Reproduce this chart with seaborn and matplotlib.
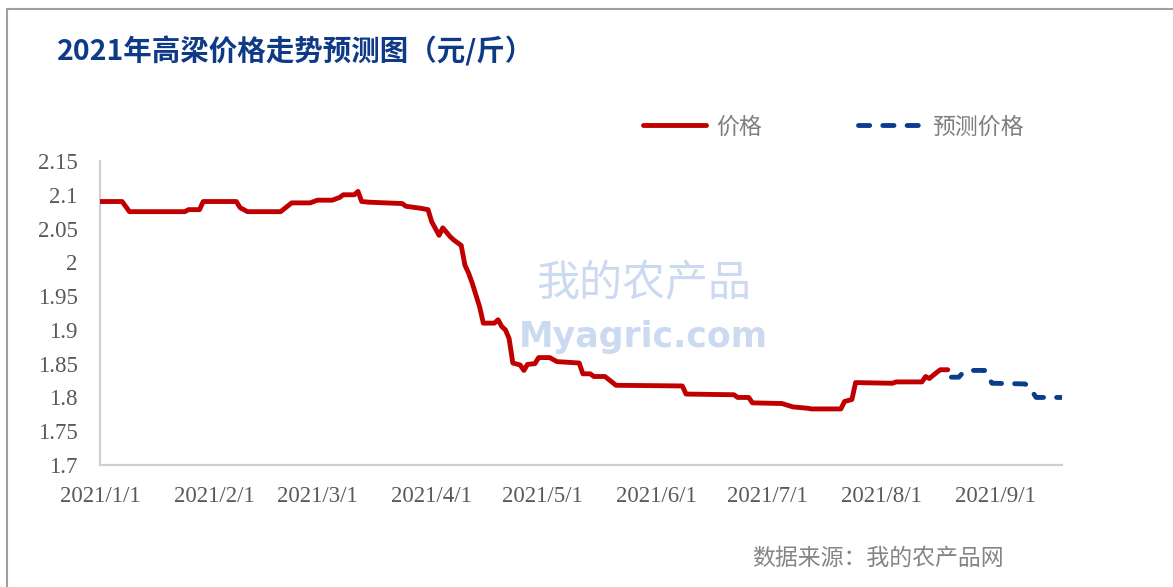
import matplotlib
matplotlib.use("Agg")
import matplotlib.pyplot as plt
import seaborn as sns
import pandas as pd
from matplotlib.lines import Line2D

# ---------------- data ----------------
price_dates = ["2021-01-01", "2021-01-07", "2021-01-09", "2021-01-24", "2021-01-25", "2021-01-28",
               "2021-01-29", "2021-02-07", "2021-02-08", "2021-02-10", "2021-02-19", "2021-02-22",
               "2021-02-27", "2021-03-01", "2021-03-05", "2021-03-07", "2021-03-08", "2021-03-11",
               "2021-03-12", "2021-03-13", "2021-03-15", "2021-03-24", "2021-03-25", "2021-03-29",
               "2021-03-31", "2021-04-01", "2021-04-03", "2021-04-04", "2021-04-06", "2021-04-07",
               "2021-04-09", "2021-04-10", "2021-04-11", "2021-04-12", "2021-04-14", "2021-04-15",
               "2021-04-18", "2021-04-19", "2021-04-20", "2021-04-21", "2021-04-22", "2021-04-23",
               "2021-04-25", "2021-04-26", "2021-04-27", "2021-04-29", "2021-04-30", "2021-05-03",
               "2021-05-05", "2021-05-11", "2021-05-12", "2021-05-14", "2021-05-15", "2021-05-18",
               "2021-05-21", "2021-06-08", "2021-06-09", "2021-06-22", "2021-06-23", "2021-06-26",
               "2021-06-27", "2021-07-05", "2021-07-08", "2021-07-12", "2021-07-13", "2021-07-21",
               "2021-07-22", "2021-07-24", "2021-07-25", "2021-08-04", "2021-08-05", "2021-08-12",
               "2021-08-13", "2021-08-14", "2021-08-16", "2021-08-17", "2021-08-19"]
price_values = [2.090, 2.090, 2.075, 2.075, 2.078, 2.078,
                2.090, 2.090, 2.081, 2.075, 2.075, 2.088,
                2.088, 2.092, 2.092, 2.096, 2.100, 2.100,
                2.105, 2.090, 2.089, 2.087, 2.083, 2.080,
                2.078, 2.060, 2.040, 2.051, 2.038, 2.033,
                2.025, 1.996, 1.984, 1.969, 1.934, 1.910,
                1.910, 1.915, 1.905, 1.900, 1.887, 1.851,
                1.848, 1.840, 1.849, 1.850, 1.859, 1.859,
                1.853, 1.851, 1.835, 1.835, 1.831, 1.831,
                1.818, 1.817, 1.805, 1.804, 1.800, 1.800,
                1.792, 1.791, 1.786, 1.784, 1.783, 1.783,
                1.794, 1.797, 1.822, 1.821, 1.823, 1.823,
                1.831, 1.828, 1.837, 1.841, 1.841]

forecast_dates = ["2021-08-20", "2021-08-22", "2021-08-23", "2021-08-25", "2021-08-29",
                  "2021-08-31", "2021-09-09", "2021-09-10", "2021-09-12", "2021-09-19"]
forecast_values = [1.830, 1.830, 1.836, 1.840, 1.840,
                   1.821, 1.820, 1.816, 1.800, 1.800]

x_tick_dates = ["2021-01-01", "2021-02-01", "2021-03-01", "2021-04-01", "2021-05-01",
                "2021-06-01", "2021-07-01", "2021-08-01", "2021-09-01"]
x_tick_labels = ["2021/1/1", "2021/2/1", "2021/3/1", "2021/4/1", "2021/5/1",
                 "2021/6/1", "2021/7/1", "2021/8/1", "2021/9/1"]
y_ticks = [1.7, 1.75, 1.8, 1.85, 1.9, 1.95, 2.0, 2.05, 2.1, 2.15]
y_tick_labels = ["1.7", "1.75", "1.8", "1.85", "1.9", "1.95", "2", "2.05", "2.1", "2.15"]

title_text = "2021年高梁价格走势预测图（元/斤）"
series_names = ["价格", "预测价格"]
source_text = "数据来源：我的农产品网"
watermark_cn = "我的农产品"
watermark_en = "Myagric.com"

# ---------------- style ----------------
sns.set_theme(style="white")
plt.rcParams["font.family"] = ["Noto Sans CJK SC", "DejaVu Sans"]

W, H = 1173, 587
fig = plt.figure(figsize=(W / 100, H / 100), dpi=100)
ax = fig.add_axes([100 / W, 1 - 465 / H, 962 / W, 304 / H])

df_price = pd.DataFrame({"date": pd.to_datetime(price_dates), "value": price_values})
df_fc = pd.DataFrame({"date": pd.to_datetime(forecast_dates), "value": forecast_values})

# watermark
ax.text(0.565, (465 - 284) / 304, watermark_cn, transform=ax.transAxes, fontsize=31,
        color="#cbdaf1", ha="center", va="center", zorder=0)
ax.text(0.565, (465 - 337) / 304, watermark_en, transform=ax.transAxes, fontsize=25,
        color="#cbdaf1", ha="center", va="center", zorder=0, fontweight="bold",
        family="DejaVu Sans")

LW = 3.5
sns.lineplot(data=df_price, x="date", y="value", ax=ax, color="#C00000",
             linewidth=LW, label=series_names[0], solid_capstyle="round", zorder=3)
sns.lineplot(data=df_fc, x="date", y="value", ax=ax, color="#0B3D8F",
             linewidth=LW, linestyle=(0, (2.3, 2.7)), dash_capstyle="round",
             label=series_names[1], zorder=3)

ax.set_xlim(pd.Timestamp("2021-01-01"), pd.Timestamp("2021-09-19"))
ax.set_ylim(1.7, 2.15)
ax.set_xticks(pd.to_datetime(x_tick_dates))
ax.set_xticklabels(x_tick_labels)
ax.set_yticks(y_ticks)
ax.set_yticklabels(y_tick_labels)
ax.set_xlabel("")
ax.set_ylabel("")

for s in ["top", "right"]:
    ax.spines[s].set_visible(False)
for s in ["left", "bottom"]:
    ax.spines[s].set_color("#d0d0d0")
    ax.spines[s].set_linewidth(1.6)

ax.tick_params(axis="both", which="major", direction="out", color="#d0d0d0",
               width=1.2, labelcolor="#595959")
ax.tick_params(axis="y", length=5, pad=11)
ax.tick_params(axis="x", length=6, pad=9)
for lab in ax.get_xticklabels() + ax.get_yticklabels():
    lab.set_family(["Liberation Serif", "DejaVu Serif"])
    lab.set_fontsize(16.5)

# legend
handles, labels = ax.get_legend_handles_labels()
ax.get_legend().remove()
fig.legend(handles, labels, loc="center left", bbox_to_anchor=(643 / W, 1 - 127 / H),
           ncol=2, frameon=False, borderpad=0, borderaxespad=0, handlelength=2.75,
           handletextpad=0.45, columnspacing=4.2,
           prop={"family": ["Noto Sans CJK SC"], "size": 16.5},
           labelcolor="#7f7f7f")

# title
fig.text(57 / W, 1 - 51 / H, title_text, fontsize=20.5, fontweight="bold",
         color="#0E3A87", ha="left", va="center")

# source
fig.text(752 / W, 1 - 558 / H, source_text, fontsize=16.5, color="#858585",
         ha="left", va="center")

# outer frame
fig.add_artist(Line2D([7 / W, 1.0], [1 - 9 / H, 1 - 9 / H], transform=fig.transFigure,
                      color="#a0a0a0", linewidth=1.5))
fig.add_artist(Line2D([7 / W, 7 / W], [0.0, 1 - 9 / H], transform=fig.transFigure,
                      color="#a0a0a0", linewidth=1.5))

fig.savefig("out.png", dpi=100)
